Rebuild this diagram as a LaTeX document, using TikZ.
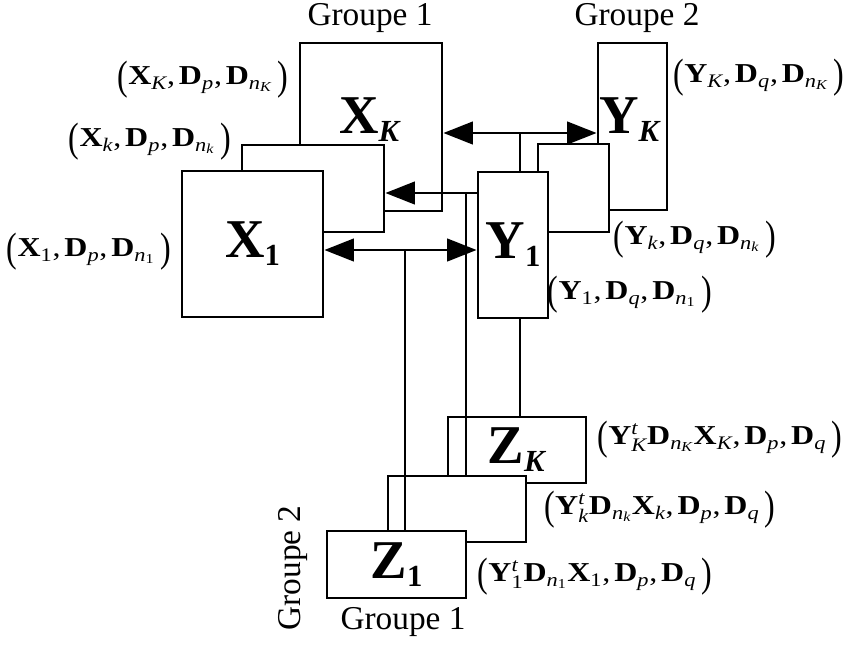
\documentclass[tikz,border=0pt]{standalone}
\usepackage{amsmath}
\usepackage{fontspec}
\setmainfont{Liberation Serif}
\usepackage{graphicx}
\usetikzlibrary{arrows.meta}
\newcommand{\LP}{\raisebox{-0.18em}{\scalebox{1}[1.5]{(}}}
\newcommand{\RP}{\raisebox{-0.18em}{\scalebox{1}[1.5]{)}}}
\newcommand{\W}[1]{\scalebox{1.17}[1]{#1}}
\newcommand{\cm}{,\hspace{0.12em}}
\newcommand{\bsub}[1]{\raisebox{-6pt}{\fontsize{23}{23}\selectfont #1}}
\begin{document}
\begin{tikzpicture}[x=0.75pt,y=-0.75pt,
  bx/.style={draw,line width=2.2pt,fill=white,inner sep=0pt,
    font=\fontsize{41}{41}\selectfont\bfseries},
  big/.style={inner sep=0pt,font=\fontsize{41}{41}\selectfont\bfseries},
  lbl/.style={inner sep=0pt,font=\fontsize{20.5}{20.5}\selectfont},
  grp/.style={inner sep=0pt,font=\fontsize{25}{25}\selectfont},
  conn/.style={line width=1.5pt},
  tipA/.tip={Triangle[length=22pt,width=17pt]},
  biarrow/.style={conn,tipA-tipA},
  larrow/.style={conn,tipA-}]
\useasboundingbox (0,0) rectangle (853,651);
% X group
\node[bx,minimum width=106.5pt,minimum height=126pt] (XK) at (371,127) {};
\node[big] (XKl) at (370,120) {X\bsub{\textit{K}}};
\node[bx,minimum width=106.5pt,minimum height=65.25pt] (Xk) at (313,188.5) {};
\node[bx,minimum width=105.75pt,minimum height=109.5pt] (X1) at (252.5,244) {X\bsub{1}};
% Y group
\node[bx,minimum width=51.75pt,minimum height=125.25pt] (YK) at (632.5,126.5) {};
\node[big] (YKl) at (630,120) {Y\bsub{\textit{K}}};
\node[bx,minimum width=53.25pt,minimum height=66pt] (Yk) at (573.5,188) {};
\node[bx,minimum width=52.5pt,minimum height=109.5pt] (Y1) at (513,245) {Y\bsub{1}};
% Z group
\node[bx,minimum width=103.5pt,minimum height=49.5pt] (ZK) at (517,450) {Z\bsub{\textit{K}}};
\node[bx,minimum width=103.5pt,minimum height=49.5pt] (Zk) at (457,509) {};
\node[bx,minimum width=104.25pt,minimum height=50.25pt] (Z1) at (396.5,564.5) {Z\bsub{1}};
% connectors
\coordinate (t) at (520,133);
\coordinate (m) at (466,193);
\coordinate (b) at (405,250);
\draw[biarrow] (XK.east |- t) -- (YK.west |- t);
\draw[conn] (t) -- (Y1.north -| t);
\draw[conn] (Y1.south -| t) -- (ZK.north -| t);
\draw[larrow] (Xk.east |- m) -- (Y1.west |- m);
\draw[conn] (m) -- (Zk.north -| m);
\draw[biarrow] (X1.east |- b) -- (Y1.west |- b);
\draw[conn] (b) -- (Z1.north -| b);
% labels
\node[grp] (g1t) at (370,18) {Groupe 1};
\node[grp] (g2t) at (637,18) {Groupe 2};
\node[grp,rotate=90] (g2b) at (293,568) {Groupe 2};
\node[grp] (g1b) at (403,622) {Groupe 1};
\node[lbl] (lXK) at (203,80) {\W{\LP$\textbf{X}_{\textit{K}}$\cm$\textbf{D}_{\textit{p}}$\cm$\textbf{D}_{\textit{n}_{\textit{K}}}$\,\RP}};
\node[lbl] (lXk) at (150,142) {\W{\LP$\textbf{X}_{\textit{k}}$\cm$\textbf{D}_{\textit{p}}$\cm$\textbf{D}_{\textit{n}_{\textit{k}}}$\,\RP}};
\node[lbl] (lX1) at (89,252) {\W{\LP$\textbf{X}_{\text{1}}$\cm$\textbf{D}_{\textit{p}}$\cm$\textbf{D}_{\textit{n}_{\text{1}}}$\,\RP}};
\node[lbl] (lYK) at (759,78) {\W{\LP$\textbf{Y}_{\textit{K}}$\cm$\textbf{D}_{\textit{q}}$\cm$\textbf{D}_{\textit{n}_{\textit{K}}}$\,\RP}};
\node[lbl] (lYk) at (695,240) {\W{\LP$\textbf{Y}_{\textit{k}}$\cm$\textbf{D}_{\textit{q}}$\cm$\textbf{D}_{\textit{n}_{\textit{k}}}$\,\RP}};
\node[lbl] (lY1) at (630,295) {\W{\LP$\textbf{Y}_{\text{1}}$\cm$\textbf{D}_{\textit{q}}$\cm$\textbf{D}_{\textit{n}_{\text{1}}}$\,\RP}};
\node[lbl] (lZK) at (720,440) {\W{\LP$\textbf{Y}^{\textit{t}}_{\textit{K}}\textbf{D}_{\textit{n}_{\textit{K}}}\textbf{X}_{\textit{K}}$\cm$\textbf{D}_{\textit{p}}$\cm$\textbf{D}_{\textit{q}}$\,\RP}};
\node[lbl] (lZk) at (660,510) {\W{\LP$\textbf{Y}^{\textit{t}}_{\textit{k}}\textbf{D}_{\textit{n}_{\textit{k}}}\textbf{X}_{\textit{k}}$\cm$\textbf{D}_{\textit{p}}$\cm$\textbf{D}_{\textit{q}}$\,\RP}};
\node[lbl] (lZ1) at (595,577) {\W{\LP$\textbf{Y}^{\textit{t}}_{\text{1}}\textbf{D}_{\textit{n}_{\text{1}}}\textbf{X}_{\text{1}}$\cm$\textbf{D}_{\textit{p}}$\cm$\textbf{D}_{\textit{q}}$\,\RP}};
\end{tikzpicture}
\end{document}
